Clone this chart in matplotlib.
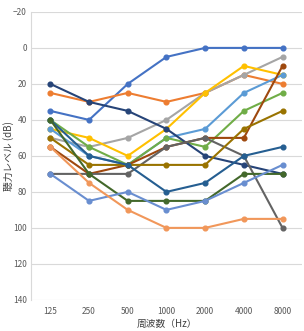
import matplotlib
matplotlib.use('Agg')
import matplotlib.pyplot as plt

plt.rcParams['font.family'] = ['Noto Sans CJK JP', 'DejaVu Sans']

# 周波数カテゴリ
freqs = ['125', '250', '500', '1000', '2000', '4000', '8000']

# 各系列の聴力レベル (dB)
s01 = [35, 40, 20, 5, 0, 0, 0]
s02 = [25, 30, 25, 30, 25, 15, 20]
s03 = [50, 55, 50, 40, 25, 15, 5]
s04 = [45, 50, 60, 45, 25, 10, 15]
s05 = [45, 60, 65, 50, 45, 25, 15]
s06 = [40, 55, 65, 50, 55, 35, 25]
s07 = [20, 30, 35, 45, 60, 65, 70]
s08 = [55, 70, 65, 55, 50, 50, 10]
s09 = [70, 70, 70, 55, 50, 60, 100]
s10 = [50, 65, 65, 65, 65, 45, 35]
s11 = [40, 60, 65, 80, 75, 60, 55]
s12 = [40, 70, 85, 85, 85, 70, 70]
s13 = [70, 85, 80, 90, 85, 75, 65]
s14 = [55, 75, 90, 100, 100, 95, 95]

series = [s01, s02, s03, s04, s05, s06, s07, s08, s09, s10, s11, s12, s13, s14]
colors = ['#4472C4', '#ED7D31', '#A5A5A5', '#FFC000', '#5B9BD5', '#70AD47',
          '#264478', '#9E480E', '#636363', '#997300', '#255E91', '#43682B',
          '#698ED0', '#F1975A']

fig = plt.figure(figsize=(3.04, 3.31), dpi=100)
ax = fig.add_axes([0.102, 0.094, 0.891, 0.870])

x = list(range(len(freqs)))
for i, (vals, c) in enumerate(zip(series, colors)):
    ax.plot(x, vals, color=c, linewidth=1.5, marker='o', markersize=3.4,
            zorder=3 + i * 0.01)

ax.set_xlim(-0.5, len(freqs) - 0.5)
ax.set_ylim(140, -20)
ax.set_yticks(range(-20, 141, 20))
ax.set_xticks(x)
ax.set_xticklabels(freqs)

ax.grid(True, axis='y', color='#D9D9D9', linewidth=0.8)
ax.set_axisbelow(True)
for side in ['top', 'right', 'bottom']:
    ax.spines[side].set_visible(False)
ax.spines['left'].set_color('#D9D9D9')
ax.spines['left'].set_linewidth(0.8)
ax.tick_params(axis='both', length=0, labelsize=6, labelcolor='#595959', pad=3)
ax.tick_params(axis='x', pad=5)

# 縦軸ラベル（左端に収まるよう図座標で配置）
fig.text(8.5 / 304, 0.094 + 0.870 / 2, '聴力レベル (dB)', rotation=90,
         ha='center', va='center', fontsize=7, color='#404040')
ax.set_xlabel('周波数（Hz）', fontsize=7, color='#404040', labelpad=2)

fig.savefig('out.png', dpi=100)
